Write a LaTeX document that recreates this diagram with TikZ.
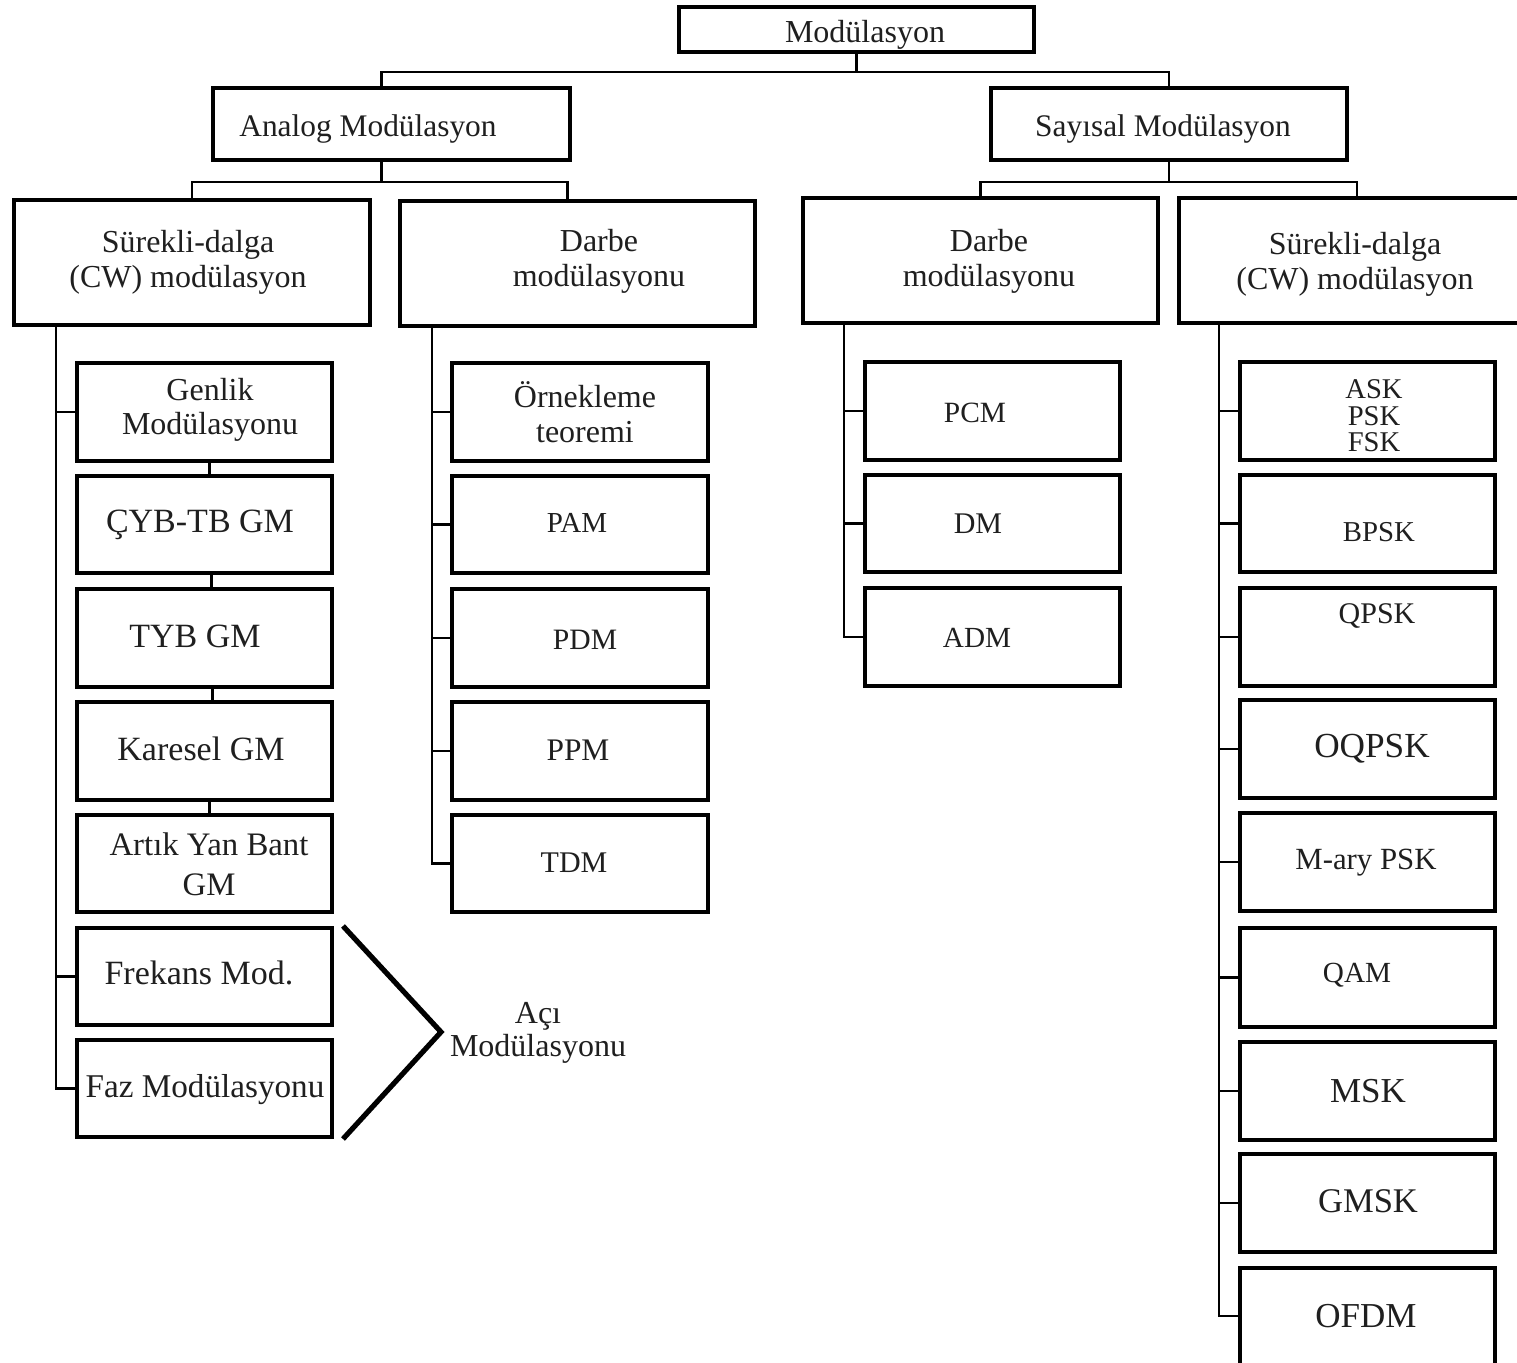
\documentclass[tikz,border=0pt]{standalone}
\usepackage{fontspec}
\setmainfont{Liberation Serif}
\usetikzlibrary{fit,calc}
\newcommand\myfs[2]{\fontsize{#1}{#2}\selectfont}
\begin{document}
\begin{tikzpicture}[x=0.5pt,y=-0.5pt,
  box/.style={draw,line width=2pt,inner sep=0pt},
  conn/.style={line width=1.1pt},
  lbl/.style={inner sep=0pt,align=center,anchor=base,text=black!88},
  brk/.style={line width=2.6pt,line join=miter}]
\useasboundingbox (0,0) rectangle (1517,1363);
\clip (0,0) rectangle (1517,1363);
\fill[white] (0,0) rectangle (1517,1363);
% ---- boxes ----
\node[box,fit={(679,7)(1034,52)}] (top) {};
\node[box,fit={(213,88)(570,160)}] (an) {};
\node[box,fit={(991,88)(1347,160)}] (say) {};
\node[box,fit={(14,200)(370,325)}] (cwl) {};
\node[box,fit={(400,201)(755,326)}] (dl) {};
\node[box,fit={(803,198)(1158,323)}] (dr) {};
\node[box,fit={(1179,198)(1535,323)}] (cwr) {};
% left column
\node[box,fit={(77,363)(332,461)}] (gen) {};
\node[box,fit={(77,476)(332,573)}] (cyb) {};
\node[box,fit={(77,589)(332,687)}] (tyb) {};
\node[box,fit={(77,702)(332,800)}] (kar) {};
\node[box,fit={(77,815)(332,912)}] (art) {};
\node[box,fit={(77,928)(332,1025)}] (frk) {};
\node[box,fit={(77,1040)(332,1137)}] (faz) {};
% darbe left column
\node[box,fit={(452,363)(708,461)}] (orn) {};
\node[box,fit={(452,476)(708,573)}] (pam) {};
\node[box,fit={(452,589)(708,687)}] (pdm) {};
\node[box,fit={(452,702)(708,800)}] (ppm) {};
\node[box,fit={(452,815)(708,912)}] (tdm) {};
% darbe right column
\node[box,fit={(865,362)(1120,460)}] (pcm) {};
\node[box,fit={(865,475)(1120,572)}] (dm) {};
\node[box,fit={(865,588)(1120,686)}] (adm) {};
% cw right column
\node[box,fit={(1240,362)(1495,460)}] (ask) {};
\node[box,fit={(1240,475)(1495,572)}] (bpsk) {};
\node[box,fit={(1240,588)(1495,686)}] (qpsk) {};
\node[box,fit={(1240,700)(1495,798)}] (oqpsk) {};
\node[box,fit={(1240,813)(1495,911)}] (mary) {};
\node[box,fit={(1240,928)(1495,1027)}] (qam) {};
\node[box,fit={(1240,1042)(1495,1140)}] (msk) {};
\node[box,fit={(1240,1154)(1495,1252)}] (gmsk) {};
\node[box,fit={(1240,1268)(1495,1390)}] (ofdm) {};
% ---- texts (anchor = baseline of last line) ----
\node[lbl,font=\myfs{16}{17.5}] (tTop) at (865,43) {Modülasyon};
\node[lbl,font=\myfs{15.7}{17.5}] (tAn) at (368,137) {Analog Modülasyon};
\node[lbl,font=\myfs{15.7}{17.5}] (tSay) at (1163,137) {Sayısal Modülasyon};
\node[lbl,font=\myfs{16}{17.5}] (tCwl) at (188,288) {Sürekli-dalga\\(CW) modülasyon};
\node[lbl,font=\myfs{16}{17.5}] (tDl) at (599,287) {Darbe\\modülasyonu};
\node[lbl,font=\myfs{16}{17.5}] (tDr) at (989,287) {Darbe\\modülasyonu};
\node[lbl,font=\myfs{16}{17.5}] (tCwr) at (1355,290) {Sürekli-dalga\\(CW) modülasyon};
\node[lbl,font=\myfs{16}{17}] (tGen) at (210,435) {Genlik\\Modülasyonu};
\node[lbl,font=\myfs{17}{18}] (tCyb) at (200,533) {ÇYB-TB GM};
\node[lbl,font=\myfs{17}{18}] (tTyb) at (195,648) {TYB GM};
\node[lbl,font=\myfs{17}{18}] (tKar) at (201,761) {Karesel GM};
\node[lbl,font=\myfs{16.4}{20}] (tArt) at (209,896) {Artık Yan Bant\\GM};
\node[lbl,font=\myfs{17}{18}] (tFrk) at (199,985) {Frekans Mod.};
\node[lbl,font=\myfs{16.6}{18}] (tFaz) at (205,1097) {Faz Modülasyonu};
\node[lbl,font=\myfs{16}{17.5}] (tOrn) at (585,443) {Örnekleme\\teoremi};
\node[lbl,font=\myfs{14.5}{17}] (tPam) at (577,533) {PAM};
\node[lbl,font=\myfs{14.8}{17}] (tPdm) at (585,650) {PDM};
\node[lbl,font=\myfs{15.7}{17}] (tPpm) at (578,761) {PPM};
\node[lbl,font=\myfs{15}{17}] (tTdm) at (574,873) {TDM};
\node[lbl,font=\myfs{14.7}{17}] (tPcm) at (975,423) {PCM};
\node[lbl,font=\myfs{15}{17}] (tDm) at (978,534) {DM};
\node[lbl,font=\myfs{14.6}{17}] (tAdm) at (977,648) {ADM};
\node[lbl,font=\myfs{14.3}{13.25}] (tAsk) at (1374,452) {ASK\\PSK\\FSK};
\node[lbl,font=\myfs{14.4}{17}] (tBpsk) at (1379,542) {BPSK};
\node[lbl,font=\myfs{15}{17}] (tQpsk) at (1377,624) {QPSK};
\node[lbl,font=\myfs{17.6}{19}] (tOq) at (1372,758) {OQPSK};
\node[lbl,font=\myfs{15.4}{17}] (tMary) at (1366,870) {M-ary PSK};
\node[lbl,font=\myfs{14.6}{17}] (tQam) at (1357,983) {QAM};
\node[lbl,font=\myfs{17.5}{19}] (tMsk) at (1368,1102) {MSK};
\node[lbl,font=\myfs{17.3}{19}] (tGmsk) at (1368,1212) {GMSK};
\node[lbl,font=\myfs{17.5}{19}] (tOfdm) at (1366,1327) {OFDM};
\node[lbl,font=\myfs{16}{17}] (tAci) at (538,1057) {Açı\\Modülasyonu};
% ---- connectors ----
\coordinate (j0) at ($(top.south)+(0,18)$);
\draw[conn] (top.south) -- (j0);
\draw[conn] ([xshift=-5pt]an.north) |- (j0) -| (say.north);
\coordinate (j1) at ($([xshift=-5pt]an.south)+(0,20)$);
\draw[conn] ([xshift=-5pt]an.south) -- (j1);
\draw[conn] (cwl.north) |- (j1) -| ([xshift=-5pt]dl.north);
\coordinate (j2) at ($(say.south)+(0,20)$);
\draw[conn] (say.south) -- (j2);
\draw[conn] (dr.north) |- (j2) -| (cwr.north);
% CW left trunk
\coordinate (k1) at ([xshift=22pt]cwl.south west);
\draw[conn] (k1) |- (faz.west);
\draw[conn] (k1 |- gen.west) -- (gen.west);
\draw[conn] (k1 |- frk.west) -- (frk.west);
\draw[conn] ([xshift=2.5pt]gen.south) -- ([xshift=2.5pt]cyb.north);
\draw[conn] ([xshift=3.5pt]cyb.south) -- ([xshift=3.5pt]tyb.north);
\draw[conn] ([xshift=4pt]tyb.south) -- ([xshift=4pt]kar.north);
\draw[conn] ([xshift=2.5pt]kar.south) -- ([xshift=2.5pt]art.north);
% Darbe left trunk
\coordinate (k2) at ([xshift=17pt]dl.south west);
\draw[conn] (k2) |- (tdm.west);
\foreach \b in {orn,pam,pdm,ppm} \draw[conn] (k2 |- \b.west) -- (\b.west);
% Darbe right trunk
\coordinate (k3) at ([xshift=21.5pt]dr.south west);
\draw[conn] (k3) |- (adm.west);
\foreach \b in {pcm,dm} \draw[conn] (k3 |- \b.west) -- (\b.west);
% CW right trunk
\coordinate (k4) at ([xshift=21pt]cwr.south west);
\coordinate (ofdmt) at (ofdm.north west |- 0,1316);
\draw[conn] (k4) |- (ofdmt);
\foreach \b in {ask,bpsk,qpsk,oqpsk,mary,qam,msk,gmsk} \draw[conn] (k4 |- \b.west) -- (\b.west);
% bracket
\coordinate (apex) at (441,1032);
\draw[brk] ([xshift=4.5pt]frk.north east) -- (apex) -- ([xshift=4.5pt]faz.south east);
\end{tikzpicture}
\end{document}
